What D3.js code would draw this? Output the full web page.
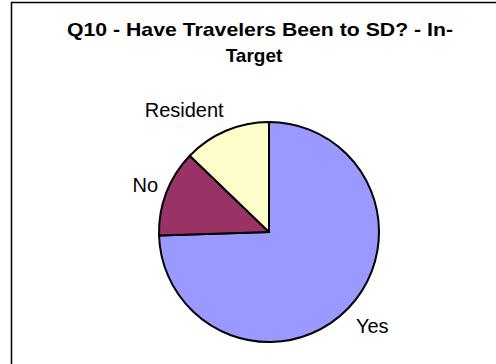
<!DOCTYPE html>
<html>
<head>
<meta charset="utf-8">
<script src="https://cdn.jsdelivr.net/npm/d3@7"></script>
<style>
  html, body { margin: 0; padding: 0; background: #fff; }
  svg { display: block; }
</style>
</head>
<body>
<svg id="chart" width="496" height="364"></svg>
<script>
// Share of in-target travelers who have been to SD
const categories = ["Yes", "No", "Resident"];
const shares = [74.5, 12.7, 12.8];
const sliceColors = ["#9999FF", "#993366", "#FFFFCC"];
const titleLines = ["Q10 - Have Travelers Been to SD? - In-", "Target"];

const width = 496, height = 364;
const cx = 269, cy = 232, radius = 110;

const svg = d3.select("#chart");

// chart frame (extends past the right and bottom edges)
svg.append("rect")
  .attr("x", 11.5).attr("y", 2.5)
  .attr("width", 600).attr("height", 500)
  .attr("fill", "#fff")
  .attr("stroke", "#000").attr("stroke-width", 1.5);

// title, two lines
const title = svg.append("text")
  .attr("font-family", "Liberation Sans, Arial, sans-serif")
  .attr("font-weight", "bold")
  .attr("font-size", 19)
  .attr("fill", "#000");
title.append("tspan")
  .attr("x", 67).attr("y", 36)
  .attr("textLength", 386)
  .attr("lengthAdjust", "spacingAndGlyphs")
  .text(titleLines[0]);
title.append("tspan")
  .attr("x", 254).attr("y", 62)
  .attr("text-anchor", "middle")
  .text(titleLines[1]);

const data = categories.map((c, i) => ({ name: c, value: shares[i], color: sliceColors[i] }));

const pie = d3.pie().value(d => d.value).sort(null);
const arc = d3.arc().innerRadius(0).outerRadius(radius);
const arcs = pie(data);

const g = svg.append("g").attr("transform", `translate(${cx},${cy})`);

g.selectAll("path.slice")
  .data(arcs)
  .join("path")
  .attr("class", "slice")
  .attr("d", arc)
  .attr("fill", d => d.data.color)
  .attr("stroke", "#000")
  .attr("stroke-width", 2)
  .attr("stroke-linejoin", "round");

// category labels placed just outside each slice's mid-angle
const labelR = radius + 11;
g.selectAll("text.label")
  .data(arcs)
  .join("text")
  .attr("class", "label")
  .each(function(d) {
    const a = (d.startAngle + d.endAngle) / 2;
    const dx = Math.sin(a), dy = -Math.cos(a);
    const x = dx * labelR, y = dy * labelR;
    const anchor = dx < -0.2 ? "end" : dx > 0.2 ? "start" : "middle";
    let baseline, yy = y;
    if (dy < -0.5) { baseline = "alphabetic"; yy = y - 4; }
    else if (dy > 0.5) { baseline = "hanging"; yy = y + 2; }
    else { baseline = "central"; yy = y - 4; }
    d3.select(this)
      .attr("x", dx < -0.2 ? x + 2 : x)
      .attr("y", yy)
      .attr("text-anchor", anchor)
      .attr("dominant-baseline", baseline);
  })
  .attr("font-family", "Liberation Sans, Arial, sans-serif")
  .attr("font-size", 20)
  .attr("fill", "#000")
  .text(d => d.data.name);
</script>
</body>
</html>
